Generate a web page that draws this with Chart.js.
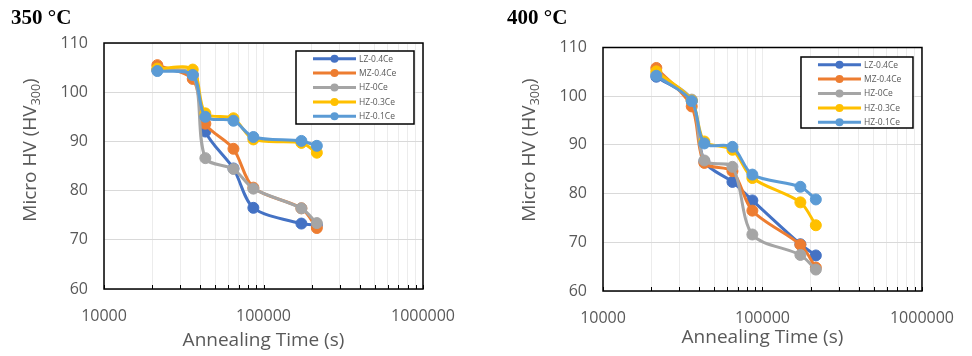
<!DOCTYPE html>
<html>
<head>
<meta charset="utf-8">
<script src="https://cdn.jsdelivr.net/npm/chart.js@4"></script>
<style>
  body { margin: 0; background: #fff; }
  #wrap { position: relative; width: 972px; height: 356px; }
  canvas { position: absolute; top: 0; }
  #c350 { left: 0; }
  #c400 { left: 486px; }
</style>
</head>
<body>
<div id="wrap">
  <canvas id="c350" width="486" height="356"></canvas>
  <canvas id="c400" width="486" height="356"></canvas>
</div>
<script>
// Données
const annealTimes = [21600, 36000, 43200, 64800, 86400, 172800, 216000];
const seriesNames = ["LZ-0.4Ce", "MZ-0.4Ce", "HZ-0Ce", "HZ-0.3Ce", "HZ-0.1Ce"];

// 350 °C
const hv350LZ04 = [104.5, 103.5, 92.0, 84.5, 76.5, 73.3, 73.0];
const hv350MZ04 = [105.5, 102.7, 93.6, 88.5, 80.6, 76.4, 72.4];
const hv350HZ0 = [104.5, 103.6, 86.6, 84.4, 80.4, 76.4, 73.4];
const hv350HZ03 = [104.8, 104.6, 95.7, 94.7, 90.4, 89.7, 87.7];
const hv350HZ01 = [104.3, 103.5, 95.0, 94.2, 90.9, 90.1, 89.1];

// 400 °C
const hv400LZ04 = [104.0, 99.0, 86.6, 82.4, 78.6, 69.6, 67.3];
const hv400MZ04 = [105.8, 97.9, 86.3, 84.6, 76.5, 69.5, 64.8];
const hv400HZ0 = [104.5, 99.3, 86.8, 85.5, 71.6, 67.4, 64.4];
const hv400HZ03 = [105.1, 99.1, 90.7, 89.0, 83.2, 78.2, 73.5];
const hv400HZ01 = [104.2, 99.0, 90.3, 89.6, 83.9, 81.4, 78.8];

// Graduations
const yTickValues = [60, 70, 80, 90, 100, 110];
const xTickValues = [10000, 20000, 30000, 40000, 50000, 60000, 70000, 80000, 90000,
  100000, 200000, 300000, 400000, 500000, 600000, 700000, 800000, 900000, 1000000];
const xTickLabels = [10000, 100000, 1000000];

// Styles
const seriesColors = ["#4472C4", "#ED7D31", "#A5A5A5", "#FFC000", "#5B9BD5"];
const textGrey = "#595959";
const sansFont = '"Open Sans", "Liberation Sans", sans-serif';

// Cadre, titres, légende
const decor = {
  id: "decor",
  afterDraw(chart, args, o) {
    const { ctx, chartArea: a, scales } = chart;
    ctx.save();

    // cadre noir
    ctx.strokeStyle = "#000";
    ctx.lineWidth = 1.5;
    ctx.strokeRect(a.left, a.top, a.right - a.left, a.bottom - a.top);

    // petites graduations internes
    ctx.lineWidth = 1;
    xTickValues.forEach(v => {
      const x = Math.round(scales.x.getPixelForValue(v)) + 0.5;
      ctx.beginPath();
      ctx.moveTo(x, a.bottom);
      ctx.lineTo(x, a.bottom - 4);
      ctx.stroke();
    });

    // titre du graphique
    ctx.fillStyle = "#000";
    ctx.font = 'bold 21px "Liberation Serif", serif';
    ctx.textAlign = "left";
    ctx.textBaseline = "alphabetic";
    ctx.fillText(o.title, o.titleX, 24);

    // titre axe x
    ctx.fillStyle = textGrey;
    ctx.font = "19px " + sansFont;
    ctx.textAlign = "center";
    ctx.textBaseline = "middle";
    ctx.fillText("Annealing Time (s)", (a.left + a.right) / 2, o.xTitleY);

    // titre axe y avec indice
    ctx.save();
    ctx.translate(a.left - 73, 150);
    ctx.rotate(-Math.PI / 2);
    ctx.textAlign = "left";
    const big = "19px " + sansFont, small = "12.5px " + sansFont;
    ctx.font = big;
    const w1 = ctx.measureText("Micro HV (HV").width;
    const w3 = ctx.measureText(")").width;
    ctx.font = small;
    const w2 = ctx.measureText("300").width;
    let x0 = -(w1 + w2 + w3) / 2;
    ctx.font = big;
    ctx.fillText("Micro HV (HV", x0, 0);
    ctx.font = small;
    ctx.fillText("300", x0 + w1, 5);
    ctx.font = big;
    ctx.fillText(")", x0 + w1 + w2, 0);
    ctx.restore();

    // légende
    const lw = o.legendW, lh = o.legendH;
    const lx = a.right - 9 - lw, ly = a.top + o.legendTop;
    ctx.fillStyle = "#fff";
    ctx.fillRect(lx, ly, lw, lh);
    ctx.strokeStyle = "#000";
    ctx.lineWidth = 1.5;
    ctx.strokeRect(lx, ly, lw, lh);
    ctx.font = "8.5px " + sansFont;
    ctx.textAlign = "left";
    ctx.textBaseline = "middle";
    chart.data.datasets.forEach((ds, i) => {
      const y = ly + 7.7 + i * 14.4;
      ctx.strokeStyle = ds.borderColor;
      ctx.lineWidth = 3;
      ctx.beginPath();
      ctx.moveTo(lx + 17, y);
      ctx.lineTo(lx + 60, y);
      ctx.stroke();
      ctx.fillStyle = ds.borderColor;
      ctx.beginPath();
      ctx.arc(lx + 38.5, y, 4, 0, Math.PI * 2);
      ctx.fill();
      ctx.fillStyle = textGrey;
      ctx.fillText(ds.label, lx + 63, y + 0.5);
    });

    ctx.restore();
  }
};

// Construction d'un graphique
function makeChart(id, seriesValues, o) {
  const datasets = seriesValues.map((vals, i) => ({
    label: seriesNames[i],
    data: annealTimes.map((t, k) => ({ x: t, y: vals[k] })),
    borderColor: seriesColors[i],
    backgroundColor: seriesColors[i],
    borderWidth: 3,
    pointRadius: 5.5,
    pointBorderWidth: 1,
    tension: 0.3,
    order: seriesValues.length - 1 - i
  }));

  return new Chart(document.getElementById(id), {
    type: "line",
    data: { datasets },
    options: {
      responsive: false,
      animation: false,
      devicePixelRatio: 1,
      layout: { padding: o.padding },
      plugins: {
        legend: { display: false },
        tooltip: { enabled: false },
        decor: o
      },
      scales: {
        x: {
          type: "logarithmic",
          min: 10000,
          max: 1000000,
          afterBuildTicks: axis => { axis.ticks = xTickValues.map(v => ({ value: v })); },
          afterFit: axis => { axis.height = o.xHeight; },
          ticks: {
            autoSkip: false,
            maxRotation: 0,
            padding: 18,
            color: textGrey,
            font: { family: sansFont, size: 16 },
            callback: v => xTickLabels.includes(v) ? String(v) : ""
          },
          grid: { color: "#ececec", drawTicks: false },
          border: { display: false }
        },
        y: {
          min: 60,
          max: 110,
          afterBuildTicks: axis => { axis.ticks = yTickValues.map(v => ({ value: v })); },
          afterFit: axis => { axis.width = 50; },
          ticks: {
            padding: 16,
            color: textGrey,
            font: { family: sansFont, size: 16 }
          },
          grid: { color: "#d9d9d9", drawTicks: false },
          border: { display: false }
        }
      }
    },
    plugins: [decor]
  });
}

// Rendu
makeChart("c350", [hv350LZ04, hv350MZ04, hv350HZ0, hv350HZ03, hv350HZ01], {
  title: "350 °C", titleX: 11, xTitleY: 341,
  padding: { left: 54, top: 43, right: 63, bottom: 0 }, xHeight: 67,
  legendW: 118, legendH: 73, legendTop: 8
});
makeChart("c400", [hv400LZ04, hv400MZ04, hv400HZ0, hv400HZ03, hv400HZ01], {
  title: "400 °C", titleX: 21, xTitleY: 338,
  padding: { left: 67, top: 47.5, right: 35, bottom: 0 }, xHeight: 65,
  legendW: 112, legendH: 71, legendTop: 9.5
});
</script>
</body>
</html>
